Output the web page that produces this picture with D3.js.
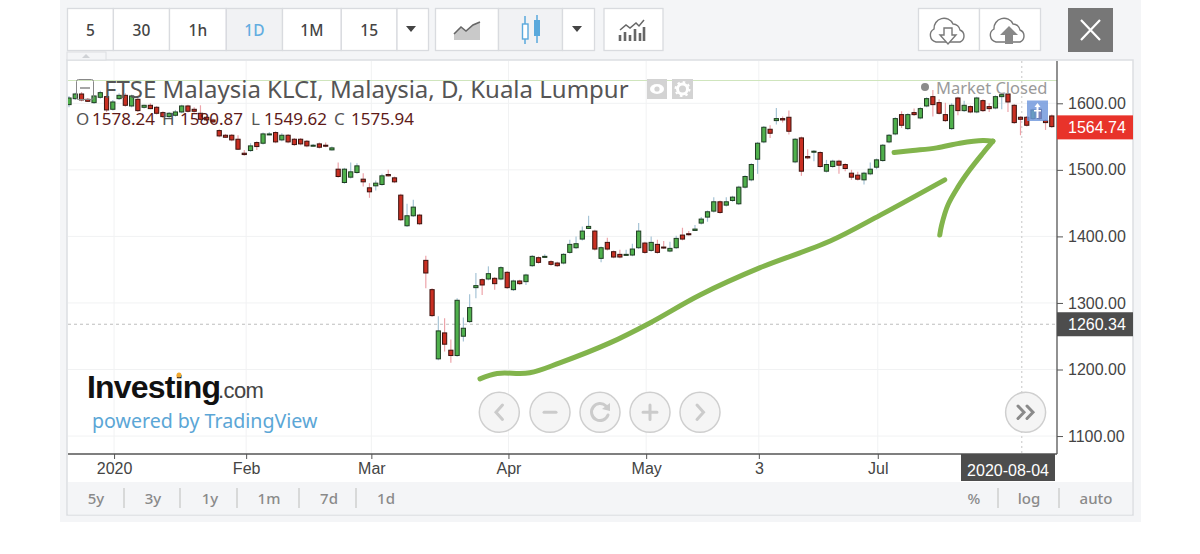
<!DOCTYPE html>
<html>
<head>
<meta charset="utf-8">
<script src="https://cdn.jsdelivr.net/npm/d3@7"></script>
<style>
  html, body { margin: 0; padding: 0; background: #fff; }
  svg { display: block; }
  text { font-family: "Noto Sans", sans-serif; }
  .arial text, text.arial { font-family: "Liberation Sans", sans-serif; }
</style>
</head>
<body>
<svg id="chart" width="1200" height="554"></svg>
<script>
// Daily candles, one entry per trading day
const opens = [1598,1607,1614,1606,1601,1609,1610,1591,1607,1612,1596,1606,1594,1597,1594,1586,1580,1582,1587,1596,1591,1585,1579,1575,1559,1552,1552,1546,1525,1529,1541,1540,1553,1556,1545,1552,1546,1546,1543,1536,1539,1537,1530,1501,1481,1489,1496,1486,1473,1476,1478,1493,1488,1462,1416,1431,1432,1364,1320,1216,1255,1229,1221,1250,1272,1323,1335,1336,1337,1336,1346,1320,1333,1332,1356,1368,1369,1362,1360,1360,1376,1383,1396,1412,1408,1367,1391,1377,1373,1372,1372,1383,1390,1379,1388,1384,1378,1383,1402,1404,1409,1420,1429,1438,1452,1447,1454,1449,1474,1485,1516,1542,1561,1574,1577,1579,1512,1548,1520,1527,1526,1498,1505,1513,1508,1495,1492,1485,1494,1504,1514,1542,1554,1583,1562,1586,1578,1596,1610,1601,1583,1562,1608,1589,1595,1587,1604,1595,1593,1610,1614,1597,1579,1579,1577,1591,1574,1581];
const highs = [1611,1616,1617,1608,1612,1619,1612,1605,1615,1615,1613,1608,1598,1600,1596,1588,1587,1590,1598,1598,1594,1597,1581,1577,1561,1554,1554,1552,1530,1540,1543,1556,1557,1558,1555,1554,1548,1548,1545,1539,1541,1541,1535,1511,1503,1511,1510,1495,1480,1484,1494,1500,1490,1464,1449,1455,1434,1371,1322,1280,1277,1245,1307,1278,1313,1345,1337,1355,1339,1355,1348,1335,1335,1344,1372,1370,1373,1364,1362,1375,1395,1400,1415,1431,1410,1385,1398,1379,1380,1380,1389,1420,1392,1400,1395,1393,1392,1401,1413,1408,1417,1429,1439,1459,1454,1459,1461,1476,1492,1510,1542,1566,1567,1593,1580,1589,1548,1550,1531,1530,1528,1515,1515,1515,1510,1500,1497,1497,1511,1517,1539,1554,1579,1588,1585,1592,1594,1609,1620,1606,1601,1600,1610,1604,1597,1610,1606,1600,1612,1615,1616,1599,1581,1581,1592,1593,1576,1583];
const lows = [1594,1605,1603,1602,1599,1607,1587,1589,1605,1595,1594,1587,1592,1591,1583,1578,1578,1580,1585,1586,1586,1575,1573,1570,1549,1548,1543,1530,1521,1527,1530,1538,1552,1540,1543,1540,1536,1537,1534,1535,1532,1534,1529,1488,1479,1487,1494,1475,1458,1469,1476,1490,1480,1423,1414,1429,1417,1322,1279,1214,1227,1210,1219,1242,1270,1307,1312,1334,1320,1334,1321,1318,1327,1327,1354,1359,1368,1356,1354,1358,1374,1381,1394,1411,1379,1361,1379,1367,1367,1371,1370,1381,1374,1377,1374,1381,1376,1381,1394,1401,1408,1418,1422,1436,1434,1445,1452,1447,1472,1483,1494,1540,1548,1568,1571,1553,1510,1491,1516,1513,1503,1496,1503,1494,1498,1485,1484,1478,1492,1501,1512,1540,1552,1563,1560,1581,1576,1594,1580,1583,1572,1560,1582,1587,1585,1585,1587,1587,1591,1591,1587,1569,1552,1565,1575,1575,1560,1563];
const closes = [1608,1614,1605,1603,1611,1616,1590,1602,1612,1597,1611,1589,1597,1592,1585,1580,1585,1587,1596,1588,1588,1576,1575,1572,1551,1549,1545,1531,1523,1536,1535,1554,1554,1542,1552,1542,1538,1539,1536,1537,1534,1536,1533,1490,1501,1497,1506,1482,1467,1480,1491,1491,1482,1425,1431,1444,1419,1345,1281,1258,1238,1221,1304,1262,1293,1326,1327,1344,1329,1353,1323,1333,1329,1342,1370,1361,1370,1358,1356,1373,1388,1389,1408,1415,1381,1383,1381,1369,1369,1373,1381,1408,1376,1391,1376,1383,1382,1397,1396,1403,1411,1426,1437,1452,1436,1452,1459,1474,1490,1508,1540,1564,1555,1577,1575,1558,1546,1498,1518,1528,1505,1508,1513,1507,1502,1489,1486,1495,1501,1515,1537,1552,1577,1567,1583,1583,1592,1607,1598,1585,1574,1597,1589,1597,1587,1608,1589,1592,1610,1613,1602,1571,1576,1567,1590,1577,1571,1565];

// Axis ticks
const priceTicks = [1100, 1200, 1300, 1400, 1500, 1600];
const timeTickLabels = ['2020', 'Feb', 'Mar', 'Apr', 'May', '3', 'Jul'];
const timeTickIndex = [7.2, 28.3, 48.3, 70.2, 92.2, 110.2, 129.2];

// Last price and crosshair readout
const lastPrice = 1564.74;
const crossPrice = 1268;
const crossLabel = '1260.34';
const crossIndex = 152.2;
const crossDate = '2020-08-04';
const legendLabels = ['O', 'H', 'L', 'C'];
const legendValues = ['1578.24', '1580.87', '1549.62', '1575.94'];

// Hand drawn green marks, read as [candle index, price]
const sweepStroke = [[65.65,1186],[68.4,1194],[73.6,1195],[78.4,1210],[86.4,1240],[92.8,1270],[100.8,1312],[110.4,1353],[121.6,1393],[129.6,1432],[139.9,1485]];
const arrowTopStroke = [[131.8,1526],[134.8,1529],[138.6,1533],[142.3,1540],[146,1544],[147.6,1543]];
const arrowDownStroke = [[147.6,1543],[146,1525],[143.9,1500],[142,1474],[140.4,1447],[139.4,1417],[139.1,1402]];

const svg = d3.select('#chart');

// Panel background and chart frame
svg.append('rect').attr('x', 60).attr('y', 0).attr('width', 1081).attr('height', 522).attr('fill', '#f4f5f7');
svg.append('rect').attr('x', 67).attr('y', 60).attr('width', 1066).attr('height', 455).attr('fill', '#fff').attr('stroke', '#dcdee2').attr('stroke-width', 1.5);
svg.append('rect').attr('x', 68).attr('y', 482).attr('width', 1064).attr('height', 32.5).attr('fill', '#f4f5f7');

// Small tab above the chart
svg.append('rect').attr('x', 67).attr('y', 52).attr('width', 39).attr('height', 8).attr('fill', '#f4f5f7').attr('stroke', '#dcdee2');
svg.append('path').attr('d', 'M82 58 L86 54 L90 58 Z').attr('fill', '#cfd2d6');

// Scales
const x = d3.scaleLinear().domain([0, 157]).range([69, 1051.8]);
const y = d3.scaleLinear().domain([1100, 1600]).range([436.05, 103.3]);
const plotLeft = 68, plotRight = 1057, plotTop = 61, plotBottom = 454;

svg.append('clipPath').attr('id', 'plot').append('rect')
    .attr('x', plotLeft).attr('y', plotTop).attr('width', plotRight - plotLeft).attr('height', plotBottom - plotTop);

// Grid
svg.append('g').selectAll('line').data(priceTicks).enter().append('line')
    .attr('x1', plotLeft).attr('x2', plotRight).attr('y1', d => y(d)).attr('y2', d => y(d))
    .attr('stroke', '#f1f2f3');
svg.append('g').selectAll('line').data(timeTickIndex).enter().append('line')
    .attr('x1', d => x(d)).attr('x2', d => x(d)).attr('y1', plotTop).attr('y2', plotBottom)
    .attr('stroke', '#f1f2f3');

// Pale green line under the title
svg.append('line').attr('x1', plotLeft).attr('x2', plotRight).attr('y1', 80.5).attr('y2', 80.5)
    .attr('stroke', '#cfe5bd').attr('stroke-width', 1.2);

// Crosshair
svg.append('line').attr('x1', plotLeft).attr('x2', plotRight).attr('y1', y(crossPrice)).attr('y2', y(crossPrice))
    .attr('stroke', '#bdbdbd').attr('stroke-dasharray', '3 3');
svg.append('line').attr('x1', x(crossIndex)).attr('x2', x(crossIndex)).attr('y1', plotTop).attr('y2', plotBottom)
    .attr('stroke', '#cfcfcf').attr('stroke-width', 1.2).attr('stroke-dasharray', '2 3');

// Candles
const candleIdx = d3.range(opens.length);
const candles = svg.append('g').attr('clip-path', 'url(#plot)');
candles.selectAll('.wick').data(candleIdx).enter().append('line')
    .attr('class', 'wick')
    .attr('x1', i => x(i)).attr('x2', i => x(i))
    .attr('y1', i => y(highs[i])).attr('y2', i => y(lows[i]))
    .attr('stroke', i => closes[i] >= opens[i] ? '#a6c4d6' : '#eda4aa')
    .attr('stroke-width', 1.2);
candles.selectAll('.body').data(candleIdx).enter().append('rect')
    .attr('class', 'body')
    .attr('x', i => x(i) - 2.1)
    .attr('width', 4.2)
    .attr('y', i => y(Math.max(opens[i], closes[i])))
    .attr('height', i => Math.max(1, Math.abs(y(opens[i]) - y(closes[i]))))
    .attr('fill', i => closes[i] >= opens[i] ? '#4fb04c' : '#c92f22')
    .attr('stroke', i => closes[i] >= opens[i] ? '#1f3d22' : '#3d120e')
    .attr('stroke-width', 1);

// Blue marker sitting on the last candles
svg.append('rect').attr('x', 1027).attr('y', 100.5).attr('width', 21).attr('height', 20.5).attr('fill', '#6e96dc').attr('opacity', 0.82);
svg.append('path').attr('d', 'M1037.5 103 L1040.5 107 L1038.5 107 L1038.5 118 L1036.5 118 L1036.5 107 L1034.5 107 Z M1034 110 H1041 V111.5 H1034 Z').attr('fill', '#fff');

// Hand drawn strokes
const pen = d3.line().x(d => x(d[0])).y(d => y(d[1])).curve(d3.curveCatmullRom);
[sweepStroke, arrowTopStroke, arrowDownStroke].forEach(s => {
    svg.append('path').attr('d', pen(s)).attr('fill', 'none')
        .attr('stroke', '#82b44c').attr('stroke-width', 5).attr('stroke-linecap', 'round');
});

// Axes
const yAxis = d3.axisRight(y).tickValues(priceTicks).tickFormat(d3.format('.2f')).tickSize(6).tickPadding(5);
const yG = svg.append('g').attr('class', 'arial').attr('transform', `translate(${plotRight},0)`).call(yAxis);
yG.select('.domain').remove();
yG.selectAll('line').attr('stroke', '#555');
yG.selectAll('text').attr('font-size', 16).attr('fill', '#444');
svg.append('line').attr('x1', plotRight).attr('x2', plotRight).attr('y1', plotTop).attr('y2', plotBottom).attr('stroke', '#555').attr('stroke-width', 1.3);

const xAxis = d3.axisBottom(x).tickValues(timeTickIndex).tickFormat((d, i) => timeTickLabels[i]).tickSize(5).tickPadding(4);
const xG = svg.append('g').attr('class', 'arial').attr('transform', `translate(0,${plotBottom})`).call(xAxis);
xG.select('.domain').remove();
xG.selectAll('line').attr('stroke', '#555');
xG.selectAll('text').attr('font-size', 16).attr('fill', '#444');
svg.append('line').attr('x1', plotLeft).attr('x2', plotRight).attr('y1', plotBottom).attr('y2', plotBottom).attr('stroke', '#555').attr('stroke-width', 1.3);

// Price tags
function priceTag(yPos, color, label) {
    svg.append('rect').attr('x', plotRight).attr('y', yPos - 12).attr('width', 76).attr('height', 24).attr('fill', color);
    svg.append('text').attr('class', 'arial').attr('x', 1068).attr('y', yPos + 6).attr('font-size', 16).attr('fill', '#fff').text(label);
}
priceTag(y(lastPrice) + 0.6, '#e8332a', d3.format('.2f')(lastPrice));
priceTag(y(crossPrice), '#4d4d4d', crossLabel);

// Date tag
svg.append('rect').attr('x', 961).attr('y', plotBottom).attr('width', 94).attr('height', 27).attr('fill', '#4d4d4d');
svg.append('text').attr('class', 'arial').attr('x', 1008).attr('y', 476).attr('text-anchor', 'middle').attr('font-size', 16).attr('fill', '#fff').text(crossDate);

// Title block
svg.append('text').attr('x', 104).attr('y', 98).attr('font-size', 24).attr('fill', '#555').text('FTSE Malaysia KLCI, Malaysia, D, Kuala Lumpur');
svg.append('rect').attr('x', 76.5).attr('y', 79.5).attr('width', 17).attr('height', 20).attr('rx', 2).attr('fill', 'none').attr('stroke', '#888');
svg.append('line').attr('x1', 80).attr('x2', 90).attr('y1', 88).attr('y2', 88).attr('stroke', '#888').attr('stroke-width', 1.5);

const legendX = [76, 162, 251, 334];
const legendValueX = [92, 180, 264, 351];
legendLabels.forEach((l, i) => {
    svg.append('text').attr('x', legendX[i]).attr('y', 125).attr('font-size', 17).attr('fill', '#555').text(l);
    svg.append('text').attr('x', legendValueX[i]).attr('y', 125).attr('font-size', 17).attr('fill', '#5e1a18').text(legendValues[i]);
});

// Eye and gear boxes
svg.append('rect').attr('x', 647).attr('y', 79).attr('width', 20).attr('height', 20).attr('fill', '#d3d3d3');
svg.append('ellipse').attr('cx', 657).attr('cy', 89).attr('rx', 7).attr('ry', 5).attr('fill', '#fff');
svg.append('circle').attr('cx', 657).attr('cy', 89).attr('r', 2.6).attr('fill', '#d3d3d3');
svg.append('rect').attr('x', 672).attr('y', 79).attr('width', 21).attr('height', 20).attr('fill', '#d3d3d3');
svg.append('circle').attr('cx', 682.5).attr('cy', 89).attr('r', 5).attr('fill', 'none').attr('stroke', '#fff').attr('stroke-width', 3);
svg.append('circle').attr('cx', 682.5).attr('cy', 89).attr('r', 7).attr('fill', 'none').attr('stroke', '#fff').attr('stroke-width', 2).attr('stroke-dasharray', '2.5 3');

// Market status
svg.append('circle').attr('cx', 925).attr('cy', 87).attr('r', 4).attr('fill', '#8b8b8b');
svg.append('text').attr('x', 936).attr('y', 94).attr('font-size', 16.5).attr('fill', '#9a9a9a').text('Market Closed');

// Logo
svg.append('text').attr('class', 'arial').attr('x', 87).attr('y', 398).attr('font-size', 32).attr('font-weight', 700).attr('letter-spacing', -0.8).attr('fill', '#111').text('Investing');
svg.append('text').attr('class', 'arial').attr('x', 218).attr('y', 398).attr('font-size', 22).attr('letter-spacing', -0.6).attr('fill', '#444').text('.com');
svg.append('circle').attr('cx', 179).attr('cy', 375).attr('r', 2.5).attr('fill', '#f0a830');
svg.append('text').attr('x', 92).attr('y', 428).attr('font-size', 19.6).attr('fill', '#5ba6d6').text('powered by TradingView');

// Round scroll and zoom buttons
const roundButtons = [499.3, 550, 600, 650, 700, 1025.6];
const roundG = svg.append('g').attr('fill', 'none').attr('stroke-linecap', 'round');
roundButtons.forEach(cx => {
    roundG.append('circle').attr('cx', cx).attr('cy', 412.3).attr('r', 20).attr('fill', '#f5f5f5').attr('stroke', '#cfcfcf').attr('stroke-width', 1.5);
});
const glyph = (d, c) => roundG.append('path').attr('d', d).attr('stroke', c || '#cbcbcb').attr('stroke-width', 3);
glyph('M502.5 405 L496 412.3 L502.5 419.5');
glyph('M544 412.3 H556');
glyph('M606 406 A8.5 8.5 0 1 0 608 415');
roundG.append('path').attr('d', 'M610 403 L610 411 L602 409 Z').attr('fill', '#cbcbcb');
glyph('M650 405 V419.5 M643 412.3 H657');
glyph('M697 405 L703.5 412.3 L697 419.5');
glyph('M1018 406 L1024 412.3 L1018 418.5 M1027 406 L1033 412.3 L1027 418.5', '#8a8a8a');

// Top toolbar buttons
const toolbarEdges = [67.5, 113.4, 169.5, 226.3, 282.5, 341.3, 397, 428.5];
const toolbarLabels = ['5', '30', '1h', '1D', '1M', '15', ''];
toolbarLabels.forEach((l, i) => {
    const active = l === '1D';
    svg.append('rect').attr('x', toolbarEdges[i]).attr('y', 8.5).attr('width', toolbarEdges[i + 1] - toolbarEdges[i]).attr('height', 42)
        .attr('fill', active ? '#f1f2f4' : '#fff').attr('stroke', '#d9dbdf').attr('stroke-width', 1.3);
    svg.append('text').attr('x', (toolbarEdges[i] + toolbarEdges[i + 1]) / 2).attr('y', 36).attr('text-anchor', 'middle')
        .attr('font-size', 15.5).attr('font-weight', 500).attr('fill', active ? '#62ade0' : '#444').text(l);
});
const chartEdges = [435.5, 498.5, 562.5, 594.5];
chartEdges.slice(0, 3).forEach((e, i) => {
    svg.append('rect').attr('x', e).attr('y', 8.5).attr('width', chartEdges[i + 1] - e).attr('height', 42)
        .attr('fill', i === 1 ? '#f1f2f4' : '#fff').attr('stroke', '#d9dbdf').attr('stroke-width', 1.3);
});
svg.append('path').attr('d', 'M406 26 H416 L411 32 Z M572 26 H582 L577 32 Z').attr('fill', '#444');

// Area style icon
svg.append('path').attr('d', 'M454 34 L461 27 L466 31 L473 25 L480 22 V40 H454 Z').attr('fill', '#c9c9c9');
svg.append('path').attr('d', 'M454 34 L461 27 L466 31 L473 25 L480 22').attr('fill', 'none').attr('stroke', '#666').attr('stroke-width', 1.6);

// Candle style icon
svg.append('path').attr('d', 'M525 16 V44 M537 15 V43').attr('stroke', '#5aa9dc').attr('stroke-width', 1.5);
svg.append('rect').attr('x', 522.5).attr('y', 24).attr('width', 5.5).attr('height', 15).attr('fill', '#fff').attr('stroke', '#5aa9dc').attr('stroke-width', 1.4);
svg.append('rect').attr('x', 534).attr('y', 20).attr('width', 6).attr('height', 16).attr('fill', '#5aa9dc');

// Indicators button
svg.append('rect').attr('x', 604).attr('y', 8.5).attr('width', 59).attr('height', 42).attr('fill', '#fff').attr('stroke', '#d9dbdf').attr('stroke-width', 1.3);
svg.append('path').attr('d', 'M620 41 V35 M625 41 V32 M630 41 V35 M635 41 V29 M640 41 V33 M644 41 V27').attr('stroke', '#666').attr('stroke-width', 2.6);
svg.append('path').attr('d', 'M620 30 L626 25 L630 28 L636 23 L639 26 L644 20').attr('fill', 'none').attr('stroke', '#666').attr('stroke-width', 1.5);

// Cloud buttons
svg.append('rect').attr('x', 918.5).attr('y', 8.5).attr('width', 61).attr('height', 42).attr('fill', '#fff').attr('stroke', '#d9dbdf').attr('stroke-width', 1.3);
svg.append('rect').attr('x', 979.5).attr('y', 8.5).attr('width', 61).attr('height', 42).attr('fill', '#fff').attr('stroke', '#d9dbdf').attr('stroke-width', 1.3);
const cloud = 'M-12 10 A7 7 0 0 1 -14 -3 A10 10 0 0 1 5 -8 A7 7 0 0 1 12 -2 A6.5 6.5 0 0 1 12 10 Z';
svg.append('path').attr('d', cloud).attr('transform', 'translate(948,32)').attr('fill', 'none').attr('stroke', '#777').attr('stroke-width', 1.4);
svg.append('path').attr('d', cloud).attr('transform', 'translate(1008,32)').attr('fill', 'none').attr('stroke', '#777').attr('stroke-width', 1.4);
svg.append('path').attr('d', 'M944 28 H952 V35 H956 L948 44 L940 35 H944 Z').attr('fill', '#fff').attr('stroke', '#777').attr('stroke-width', 1.4);
svg.append('path').attr('d', 'M1009 26 L1018 35 H1013 V44 H1005 V35 H1000 Z').attr('fill', '#888');

// Close button
svg.append('rect').attr('x', 1068).attr('y', 8).attr('width', 45).attr('height', 44).attr('fill', '#777');
svg.append('path').attr('d', 'M1081 20 L1100 40 M1100 20 L1081 40').attr('stroke', '#fff').attr('stroke-width', 2.2);

// Bottom strip
const rangeLabels = ['5y', '3y', '1y', '1m', '7d', '1d'];
const rangeX = [96, 153, 210, 269, 329, 386];
const rangeSeps = [124, 180, 237, 299, 356, 998, 1059];
const scaleLabels = ['%', 'log', 'auto'];
const scaleX = [974, 1029, 1096];
rangeLabels.concat(scaleLabels).forEach((l, i) => {
    svg.append('text').attr('x', rangeX.concat(scaleX)[i]).attr('y', 504).attr('text-anchor', 'middle')
        .attr('font-size', 15).attr('font-weight', 500).attr('fill', '#8a8a8a').text(l);
});
svg.append('g').selectAll('line').data(rangeSeps).enter().append('line')
    .attr('x1', d => d).attr('x2', d => d).attr('y1', 488).attr('y2', 508).attr('stroke', '#c9c9c9').attr('stroke-width', 1.3);
</script>
</body>
</html>
